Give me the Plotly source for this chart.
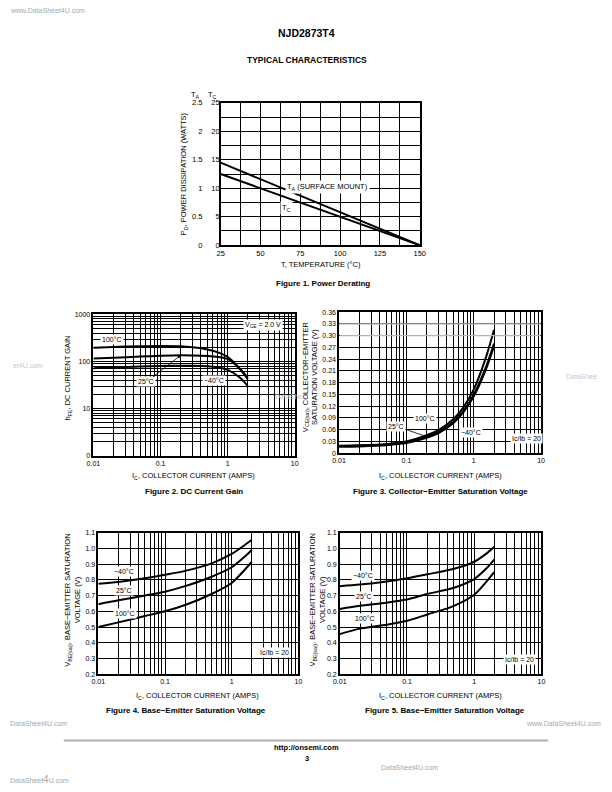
import math
import plotly.graph_objects as go

W, H = 612, 792
FONT = "Liberation Sans, Arial, Helvetica, sans-serif"
NARROW = "Liberation Sans Narrow, Arial Narrow, Liberation Sans, Arial, sans-serif"

# ---------------- data ----------------
# Figure 1: power derating
temp = [25, 150]
pd_ta = [1.45, 0.0]      # W, T_A (surface mount) scale 0..2.5
pd_tc = [12.5, 0.0]      # W, T_C scale 0..25
ta_ticks = ["0", "0.5", "1", "1.5", "2", "2.5"]
tc_ticks = ["0", "5", "10", "15", "20", "25"]
temp_ticks = [25, 50, 75, 100, 125, 150]

# Figure 2: DC current gain
ic_h = [0.01, 0.02, 0.05, 0.1, 0.2, 0.3, 0.5, 0.7, 1.0, 1.5, 2.0]
hfe_100 = [195, 203, 210, 213, 210, 200, 180, 158, 125, 72, 45]
hfe_25 = [115, 120, 127, 132, 135, 134, 131, 126, 113, 70, 42]
hfe_m40 = [72, 75, 78, 80, 81, 81, 79, 75, 66, 46, 30]

# Figure 3: VCE(sat)
ic_v = [0.01, 0.02, 0.05, 0.07, 0.1, 0.2, 0.3, 0.5, 0.7, 1.0, 1.5, 2.0]
vce_100 = [0.019, 0.020, 0.023, 0.026, 0.030, 0.046, 0.059, 0.087, 0.117, 0.163, 0.242, 0.315]
vce_25 = [0.018, 0.019, 0.022, 0.025, 0.028, 0.042, 0.054, 0.080, 0.108, 0.150, 0.218, 0.280]
vce_m40 = [0.016, 0.017, 0.020, 0.023, 0.026, 0.039, 0.051, 0.077, 0.104, 0.145, 0.212, 0.273]

# Figure 4: VBE(sat)
ic_b = [0.01, 0.02, 0.05, 0.1, 0.2, 0.5, 1.0, 1.5, 2.0]
vbe4_m40 = [0.775, 0.787, 0.810, 0.832, 0.857, 0.905, 0.965, 1.015, 1.055]
vbe4_25 = [0.645, 0.670, 0.700, 0.725, 0.760, 0.820, 0.880, 0.940, 0.990]
vbe4_100 = [0.500, 0.530, 0.570, 0.600, 0.640, 0.710, 0.780, 0.855, 0.915]

# Figure 5: VBE(sat)
vbe5_m40 = [0.760, 0.770, 0.790, 0.810, 0.835, 0.870, 0.915, 0.965, 1.010]
vbe5_25 = [0.615, 0.635, 0.655, 0.675, 0.710, 0.750, 0.805, 0.870, 0.930]
vbe5_100 = [0.455, 0.490, 0.515, 0.540, 0.580, 0.635, 0.705, 0.785, 0.850]

ic_tickvals = [0.01, 0.1, 1, 10]
ic_ticktext = ["0.01", "0.1", "1", "10"]
vce_tickvals = [i * 0.03 for i in range(13)]
vce_ticktext = ["0", "0.03", "0.06", "0.09", "0.12", "0.15", "0.18", "0.21", "0.24", "0.27", "0.30", "0.33", "0.36"]
vbe_tickvals = [0.2 + i * 0.1 for i in range(10)]
vbe_ticktext = ["0.2", "0.3", "0.4", "0.5", "0.6", "0.7", "0.8", "0.9", "1.0", "1.1"]

# ---------------- layout geometry (page px) ----------------
def px(x):
    return x / W

def py(y):
    return 1 - y / H

boxes = {
    1: (218.3, 421.7, 100.0, 244.0),
    2: (88.3, 294.0, 314.0, 456.7),
    3: (339.3, 545.7, 311.7, 454.3),
    4: (93.3, 297.7, 534.7, 678.0),
    5: (340.0, 546.0, 534.7, 678.0),
}

def xdom(k):
    b = boxes[k]
    return [px(b[0]), px(b[1])]

def ydom(k):
    b = boxes[k]
    return [py(b[3]), py(b[2])]

axis_common = dict(
    showline=True, linecolor="black", linewidth=1.5, mirror=True,
    showgrid=True, gridcolor="black", gridwidth=1, zeroline=False,
    ticks="", tickfont=dict(family=FONT, size=7, color="black"),
)

fig = go.Figure()
line = dict(color="black", width=2, shape="spline", smoothing=0.8)

# Figure 1
fig.add_trace(go.Scatter(x=temp, y=pd_ta, xaxis="x", yaxis="y", mode="lines",
                         line=dict(color="black", width=2), showlegend=False))
fig.add_trace(go.Scatter(x=temp, y=pd_tc, xaxis="x", yaxis="y6", mode="lines",
                         line=dict(color="black", width=2), showlegend=False))
# Figure 2
for ys in (hfe_100, hfe_25, hfe_m40):
    fig.add_trace(go.Scatter(x=ic_h, y=ys, xaxis="x2", yaxis="y2", mode="lines",
                             line=line, showlegend=False))
# Figure 3
for ys in (vce_100, vce_25, vce_m40):
    fig.add_trace(go.Scatter(x=ic_v, y=ys, xaxis="x3", yaxis="y3", mode="lines",
                             line=line, showlegend=False))
# Figure 4
for ys in (vbe4_m40, vbe4_25, vbe4_100):
    fig.add_trace(go.Scatter(x=ic_b, y=ys, xaxis="x4", yaxis="y4", mode="lines",
                             line=line, showlegend=False))
# Figure 5
for ys in (vbe5_m40, vbe5_25, vbe5_100):
    fig.add_trace(go.Scatter(x=ic_b, y=ys, xaxis="x5", yaxis="y5", mode="lines",
                             line=line, showlegend=False))

narrow_tick = dict(family=NARROW, size=7.5, color="black")
log_minor = dict(dtick="D1", showgrid=True, gridcolor="black", gridwidth=1, ticks="")

layout = dict(
    width=W, height=H, margin=dict(l=0, r=0, t=0, b=0),
    paper_bgcolor="white", plot_bgcolor="white", showlegend=False,
    xaxis=dict(axis_common, domain=xdom(1), anchor="y", range=[25, 150],
               tickvals=temp_ticks, tickfont=narrow_tick,
               minor=dict(dtick=12.5, tick0=25, showgrid=True, gridcolor="black", gridwidth=1, ticks="")),
    yaxis=dict(axis_common, domain=ydom(1), anchor="x", range=[0, 2.5],
               tickvals=[0, 0.5, 1, 1.5, 2, 2.5], ticktext=ta_ticks, tickfont=narrow_tick,
               ticklabelstandoff=15,
               minor=dict(dtick=0.25, tick0=0, showgrid=True, gridcolor="black", gridwidth=1, ticks="")),
    yaxis6=dict(overlaying="y", anchor="x", side="left", range=[0, 25], showgrid=False,
                showline=False, zeroline=False, ticks="",
                tickvals=[0, 5, 10, 15, 20, 25], ticktext=tc_ticks, tickfont=narrow_tick),
    xaxis2=dict(axis_common, domain=xdom(2), anchor="y2", type="log", range=[-2, 1],
                tickvals=ic_tickvals, ticktext=ic_ticktext, minor=log_minor),
    yaxis2=dict(axis_common, domain=ydom(2), anchor="x2", type="log", range=[0, 3],
                tickvals=[1, 10, 100, 1000], ticktext=["0", "10", "100", "1000"], minor=log_minor),
    xaxis3=dict(axis_common, domain=xdom(3), anchor="y3", type="log", range=[-2, 1],
                tickvals=ic_tickvals, ticktext=ic_ticktext, minor=log_minor),
    yaxis3=dict(axis_common, domain=ydom(3), anchor="x3", range=[0, 0.36],
                tickvals=vce_tickvals, ticktext=vce_ticktext),
    xaxis4=dict(axis_common, domain=xdom(4), anchor="y4", type="log", range=[-2, 1],
                tickvals=ic_tickvals, ticktext=ic_ticktext, minor=log_minor),
    yaxis4=dict(axis_common, domain=ydom(4), anchor="x4", range=[0.2, 1.1],
                tickvals=vbe_tickvals, ticktext=vbe_ticktext),
    xaxis5=dict(axis_common, domain=xdom(5), anchor="y5", type="log", range=[-2, 1],
                tickvals=ic_tickvals, ticktext=ic_ticktext, minor=log_minor),
    yaxis5=dict(axis_common, domain=ydom(5), anchor="x5", range=[0.2, 1.1],
                tickvals=vbe_tickvals, ticktext=vbe_ticktext),
)
fig.update_layout(**layout)

# gray gridlines at 0.30 / 0.33 in figure 3
shapes = []
for v in (vce_tickvals[10], vce_tickvals[11]):
    shapes.append(dict(type="line", xref="x3 domain", yref="y3", x0=0.003, x1=0.997, y0=v, y1=v,
                       line=dict(color="#b4b4b4", width=1.3), layer="above"))
# footer rule
shapes.append(dict(type="line", xref="paper", yref="paper", x0=px(58), x1=px(553),
                   y0=py(745), y1=py(745), line=dict(color="#b0b0b0", width=2), layer="above"))
fig.update_layout(shapes=shapes)

ann = []

def text(x, y, s, size=7, bold=False, family=FONT, color="black", bg=None, angle=0,
         xanchor="center", yanchor="middle"):
    d = dict(x=px(x), y=py(y), xref="paper", yref="paper", text=("<b>%s</b>" % s) if bold else s,
             showarrow=False, xanchor=xanchor, yanchor=yanchor, textangle=angle,
             font=dict(family=family, size=size, color=color))
    if bg:
        d["bgcolor"] = bg
        d["borderpad"] = 1
    ann.append(d)

# header / footer
text(306, 29, "NJD2873T4", size=10.5, bold=True)
text(306, 57, "TYPICAL CHARACTERISTICS", size=8.5, bold=True)
text(306, 752, "http://onsemi.com", size=7.5, bold=True)
text(306, 763, "3", size=7.5, bold=True)

# watermarks
wm = "#a8a8a8"
text(1, 7, "www.DataSheet4U.com", size=7, color=wm, xanchor="left")
text(1, 728, "DataSheet4U.com", size=7, color=wm, xanchor="left")
text(609, 728, "www.DataSheet4U.com", size=7, color=wm, xanchor="right")
text(380, 772, "DataSheet4U.com", size=7, color=wm, xanchor="left")
text(1, 784, "DataSheet<span style='font-size:10px'>4</span>U.com", size=7, color=wm, xanchor="left")
text(4, 366, "et4U.com", size=7, color="#c8c8c8", xanchor="left")
text(569, 377, "DataShee", size=7, color="#c8c8c8", xanchor="left")
text(272, 397, "DataShe", size=7, color="#c8c8c8", xanchor="left")

# Figure 1 texts
text(193, 92, "T<sub>A</sub>", size=7.5, family=NARROW)
text(210, 92, "T<sub>C</sub>", size=7.5, family=NARROW)
text(181, 172, "P<sub>D</sub>, POWER DISSIPATION (WATTS)", size=7.5, family=NARROW, angle=-90)
text(321, 263, "T, TEMPERATURE (°C)", size=7.5, family=NARROW)
text(327, 185, "T<sub>A</sub> (SURFACE MOUNT)", size=7.5, family=NARROW, bg="white")
text(286, 206, "T<sub>C</sub>", size=7.5, family=NARROW, bg="white")
text(323, 283, "Figure 1. Power Derating", size=8, bold=True)

# Figure 2 texts
text(62, 378, "h<sub>FE</sub>, DC CURRENT GAIN", size=7.5, angle=-90)
text(191, 477, "I<sub>C</sub>, COLLECTOR CURRENT (AMPS)", size=7.5)
text(191, 493, "Figure 2. DC Current Gain", size=8, bold=True)
text(107, 339, "100°C", size=7, bg="white")
text(212, 381, "−40°C", size=7, bg="white")
text(262, 325, "V<sub>CE</sub> = 2.0 V", size=7, bg="white")

# arrow from 25°C label to the 25°C curve
b = boxes[2]
i_arr = 4
ax_px = b[0] + (math.log10(ic_h[i_arr]) + 2) / 3 * (b[1] - b[0])
ay_px = b[3] - math.log10(hfe_25[i_arr]) / 3 * (b[3] - b[2])
ann.append(dict(x=math.log10(ic_h[i_arr]), y=math.log10(hfe_25[i_arr]), xref="x2", yref="y2",
                text="25°C", showarrow=True, arrowhead=2, arrowsize=0.8, arrowwidth=0.8,
                arrowcolor="black", ax=143 - ax_px, ay=382 - ay_px, bgcolor="white", borderpad=1,
                font=dict(family=FONT, size=7, color="black")))

# Figure 3 texts
text(310, 377, "V<sub>CE(sat)</sub>, COLLECTOR−EMITTER<br>SATURATION VOLTAGE (V)", size=7.5, angle=-90)
text(443, 477, "I<sub>C</sub>, COLLECTOR CURRENT (AMPS)", size=7.5)
text(443, 493, "Figure 3. Collector−Emitter Saturation Voltage", size=8, bold=True)
text(427, 419, "100°C", size=7, bg="white")
text(474, 433, "−40°C", size=7, bg="white")
text(531, 439, "Ic/Ib = 20", size=7, bg="white")
b = boxes[3]
i_arr = 5
ax_px = b[0] + (math.log10(ic_v[i_arr]) + 2) / 3 * (b[1] - b[0])
ay_px = b[3] - vce_25[i_arr] / 0.36 * (b[3] - b[2])
ann.append(dict(x=math.log10(ic_v[i_arr]), y=vce_25[i_arr], xref="x3", yref="y3",
                text="25°C", showarrow=True, arrowhead=0, arrowwidth=0.8,
                arrowcolor="black", ax=398 - ax_px, ay=427 - ay_px, bgcolor="white", borderpad=1,
                font=dict(family=FONT, size=7, color="black")))

# Figure 4 texts
text(67, 603, "V<sub>BE(sat)</sub>, BASE−EMITTER SATURATION<br>VOLTAGE (V)", size=7.5, angle=-90)
text(195, 700, "I<sub>C</sub>, COLLECTOR CURRENT (AMPS)", size=7.5)
text(183, 715, "Figure 4. Base−Emitter Saturation Voltage", size=8, bold=True)
text(120, 574, "−40°C", size=7, bg="white")
text(120, 593, "25°C", size=7, bg="white")
text(121, 616, "100°C", size=7, bg="white")
text(273, 656, "Ic/Ib = 20", size=7, bg="white")

# Figure 5 texts
text(317, 603, "V<sub>BE(sat)</sub>, BASE−EMITTER SATURATION<br>VOLTAGE (V)", size=7.5, angle=-90)
text(443, 700, "I<sub>C</sub>, COLLECTOR CURRENT (AMPS)", size=7.5)
text(447, 715, "Figure 5. Base−Emitter Saturation Voltage", size=8, bold=True)
text(364, 578, "−40°C", size=7, bg="white")
text(365, 599, "25°C", size=7, bg="white")
text(366, 622, "100°C", size=7, bg="white")
text(524, 663, "Ic/Ib = 20", size=7, bg="white")

fig.update_layout(annotations=ann)
fig.write_html("out.html",
               config={"displayModeBar": False},
               post_script="document.body.style.margin='0px';document.body.style.padding='0px';")
